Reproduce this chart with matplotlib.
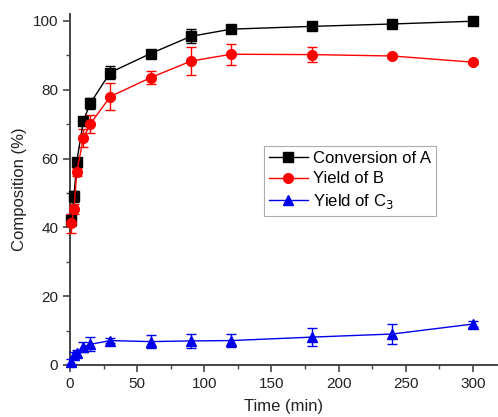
import matplotlib
matplotlib.use("Agg")
import matplotlib.pyplot as plt
from matplotlib.ticker import MultipleLocator

plt.rcParams['font.family'] = ['Liberation Sans', 'DejaVu Sans']

# Reaction time (min)
time_min = [1, 3, 5, 10, 15, 30, 60, 90, 120, 180, 240, 300]

# Conversion of A (%) and its error
conv_A = [42.0, 49.0, 59.0, 71.0, 76.0, 85.0, 90.5, 95.5, 97.6, 98.4, 99.1, 99.9]
conv_A_err = [1.5, 1.5, 1.2, 1.0, 1.5, 2.0, 0.8, 2.0, 0.6, 0.5, 0.5, 0.5]

# Yield of B (%) and its error
yield_B = [41.2, 45.3, 56.0, 66.0, 70.0, 78.0, 83.5, 88.3, 90.3, 90.2, 89.8, 88.0]
yield_B_err = [2.8, 1.5, 1.2, 2.6, 2.7, 3.9, 1.8, 4.0, 3.0, 2.2, 0.5, 0.4]

# Yield of C3 (%) and its error
yield_C3 = [1.0, 2.9, 3.4, 5.3, 6.0, 7.1, 6.8, 7.0, 7.1, 8.1, 9.0, 11.9]
yield_C3_err = [0.8, 1.0, 1.0, 1.5, 2.0, 0.8, 2.0, 2.0, 2.0, 2.7, 3.0, 1.0]

series_labels = ['Conversion of A', 'Yield of B', 'Yield of C$_3$']

fig = plt.figure(figsize=(4.98, 4.17), dpi=100)
ax = fig.add_axes([70 / 498, 1 - 365 / 417, 427 / 498, (365 - 14) / 417])

series = [
    (conv_A, conv_A_err, 'black', 's'),
    (yield_B, yield_B_err, 'red', 'o'),
    (yield_C3, yield_C3_err, '#0000ee', '^'),
]
handles = []
for (vals, errs, col, mk), lab in zip(series, series_labels):
    cont = ax.errorbar(time_min, vals, yerr=errs, color=col, marker=mk,
                       markersize=7, linewidth=1.0, elinewidth=1.0,
                       capsize=3.5, capthick=1.0, label=lab,
                       clip_on=False, zorder=3)
    handles.append(cont[0])

ax.set_xlim(0, 318)
ax.set_ylim(0, 102)
ax.xaxis.set_major_locator(MultipleLocator(50))
ax.xaxis.set_minor_locator(MultipleLocator(25))
ax.yaxis.set_major_locator(MultipleLocator(20))
ax.yaxis.set_minor_locator(MultipleLocator(10))

for side in ('top', 'right'):
    ax.spines[side].set_visible(False)
for side in ('left', 'bottom'):
    ax.spines[side].set_color('#444444')
    ax.spines[side].set_linewidth(1.4)

ax.tick_params(which='major', direction='out', length=5, width=1.2,
               color='#444444', labelsize=11, labelcolor='#222222')
ax.tick_params(which='minor', direction='out', length=3, width=1.0,
               color='#444444')

ax.set_xlabel('Time (min)', fontsize=12, color='#222222', labelpad=6)
ax.set_ylabel('Composition (%)', fontsize=12, color='#222222', labelpad=4)

leg = ax.legend(handles, series_labels, loc='upper left',
                bbox_to_anchor=(0.455, 0.625), fontsize=12,
                frameon=True, fancybox=False, edgecolor='#999999',
                borderpad=0.3, labelspacing=0.35, handlelength=2.3,
                handletextpad=0.3, borderaxespad=0)
leg.get_frame().set_linewidth(0.8)

fig.savefig('out.png', dpi=100)
